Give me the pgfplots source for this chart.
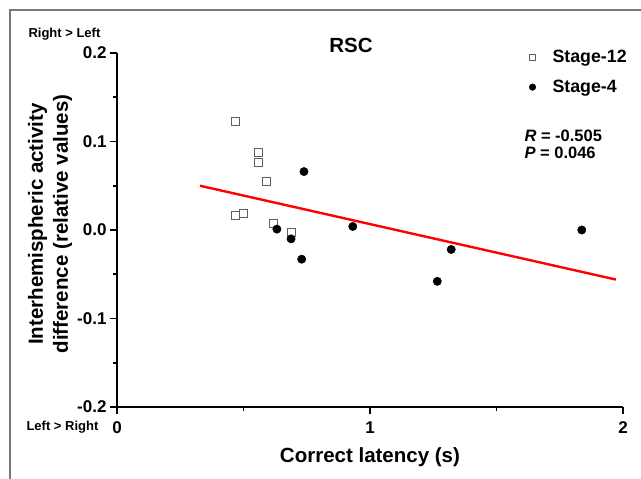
\documentclass[border=0pt]{standalone}
\usepackage{fontspec}
\setmainfont{Liberation Sans}
\usepackage{pgfplots}
\pgfplotsset{compat=1.18}
\definecolor{sqgray}{RGB}{95,95,95}
\definecolor{framegray}{RGB}{120,120,120}

\begin{document}
\begin{tikzpicture}[x=1pt,y=1pt]
\path[use as bounding box] (0,0) rectangle (641,479);
\draw[framegray, line width=1.2pt] (10,0) -- (10,469) -- (641,469);
\begin{axis}[
  at={(117pt,72pt)}, anchor=south west,
  scale only axis, width=506pt, height=354pt,
  xmin=0, xmax=2, ymin=-0.2, ymax=0.2,
  axis x line=bottom, axis y line=left,
  axis line style={-, line width=2pt},
  tick align=outside,
  major tick length=7pt, minor tick length=4pt,
  tick style={black, line width=1.6pt},
  xtick={0,1,2}, xticklabels={0,1,2},
  minor xtick={0.5,1.5},
  ytick={-0.2,-0.1,0,0.1,0.2}, yticklabels={-0.2,-0.1,0.0,0.1,0.2},
  minor ytick={-0.15,-0.05,0.05,0.15},
  /pgf/number format/assume math mode=true,
  ticklabel style={font=\fontsize{17}{17}\selectfont\bfseries},
  xticklabel style={yshift=-4pt},
  xlabel={Correct latency (s)},
  xlabel style={at={(rel axis cs:0.5,0)}, anchor=center, yshift=-50pt,
    font=\fontsize{20.5}{24}\selectfont\bfseries},
  ylabel={Interhemispheric activity\\difference (relative values)},
  ylabel style={at={(rel axis cs:0,0.5)}, anchor=center, rotate=0, yshift=67pt, xshift=6pt,
    align=center, font=\fontsize{20.5}{25}\selectfont\bfseries},
  legend style={draw=none, fill=none, at={(rel axis cs:0.805,1.014)}, anchor=north west,
    font=\fontsize{17.8}{18}\selectfont\bfseries, row sep=12pt, inner sep=0pt},
  legend cell align=left,
  legend image code/.code={%
    \path[draw=none, fill=none] (0pt,-3pt) rectangle (26pt,3pt);
    \draw[mark repeat=2,mark phase=2,#1,mark size=3.3pt] plot coordinates {(0pt,0pt)(8pt,0pt)(16pt,0pt)};},
  clip=false,
]
\addplot[only marks, mark=square, mark size=4pt, draw=sqgray, line width=0.8pt] coordinates {
  (0.469,0.123) (0.560,0.088) (0.560,0.0765) (0.592,0.0546)
  (0.469,0.017) (0.498,0.019) (0.618,0.0076) (0.690,-0.003)
};
\addlegendentry{Stage-12}
\addplot[only marks, mark=*, mark size=4.2pt, black] coordinates {
  (0.632,0.001) (0.739,0.066) (0.688,-0.010) (0.730,-0.033)
  (0.932,0.004) (1.837,0.000) (1.321,-0.022) (1.266,-0.058)
};
\addlegendentry{Stage-4}
\addplot[red, line width=2.4pt, forget plot] coordinates {(0.328,0.050) (1.972,-0.056)};
\end{axis}
\node[font=\fontsize{20.5}{24}\selectfont\bfseries] at (351,434) {RSC};
\node[anchor=west, font=\fontsize{16.5}{18}\selectfont\bfseries] at (521,343) {\textit{R} = -0.505};
\node[anchor=west, font=\fontsize{16.5}{18}\selectfont\bfseries] at (521,326) {\textit{P} = 0.046};
\node[anchor=west, font=\fontsize{13}{14}\selectfont\bfseries] at (25,445) {Right > Left};
\node[anchor=west, font=\fontsize{13}{14}\selectfont\bfseries] at (23,52) {Left > Right};
\end{tikzpicture}
\end{document}
